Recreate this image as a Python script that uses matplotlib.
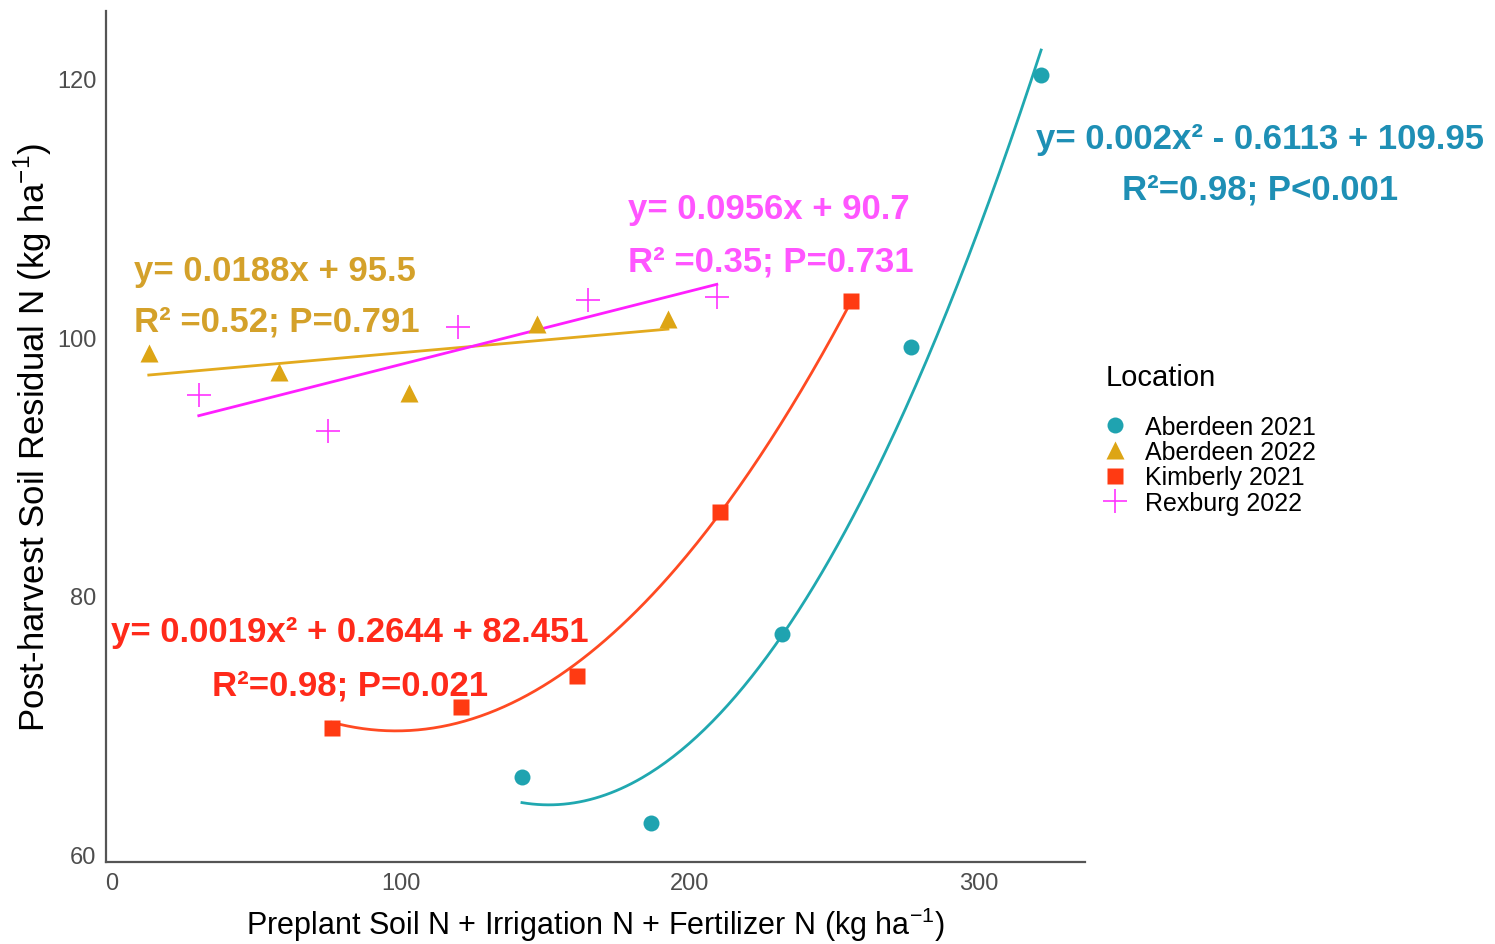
import matplotlib.pyplot as plt
import numpy as np

plt.rcParams['font.family'] = ['Liberation Sans', 'DejaVu Sans']
plt.rcParams['mathtext.fontset'] = 'custom'
plt.rcParams['mathtext.rm'] = 'Liberation Sans'

# Total N supplied (kg/ha) and post-harvest residual N (kg/ha) per site-year
aber21_x = [141.9, 186.5, 231.8, 276.5, 321.5]
aber21_y = [65.95, 62.4, 77.0, 99.2, 120.3]
aber22_x = [12.8, 57.8, 102.8, 147.1, 192.4]
aber22_y = [98.8, 97.3, 95.7, 101.0, 101.4]
kimb21_x = [76.1, 120.8, 160.9, 210.4, 255.7]
kimb21_y = [69.8, 71.4, 73.8, 86.5, 102.8]
rexb22_x = [30.1, 74.7, 119.7, 164.7, 209.3]
rexb22_y = [95.5, 92.7, 100.8, 102.9, 103.1]

teal = '#1FA3B0'
gold = '#DDA515'
red = '#FF3A12'
magenta = '#FF33FF'

fig = plt.figure(figsize=(14.95, 9.45), dpi=100)
ax = fig.add_axes([0.0709, 0.0868, 0.6549, 0.9002])


def fit_curve(x, y, deg, color):
    coef = np.polyfit(x, y, deg)
    xs = np.linspace(min(x), max(x), 200)
    ax.plot(xs, np.polyval(coef, xs), color=color, lw=2.0, zorder=2)


fit_curve(aber21_x, aber21_y, 2, '#20A8B0')
fit_curve(kimb21_x, kimb21_y, 2, '#FF4A22')
fit_curve(aber22_x, aber22_y, 1, '#E3AA1E')
fit_curve(rexb22_x, rexb22_y, 1, '#FF1FFF')

ax.plot(aber21_x, aber21_y, 'o', color=teal, ms=11.5, mec='none', label='Aberdeen 2021', zorder=3)
ax.plot(aber22_x, aber22_y, '^', color=gold, ms=13, mec='none', label='Aberdeen 2022', zorder=3)
ax.plot(kimb21_x, kimb21_y, 's', color=red, ms=11, mec='none', label='Kimberly 2021', zorder=3)
ax.plot(rexb22_x, rexb22_y, '+', color=magenta, ms=17, mew=1.2, label='Rexburg 2022', zorder=3)

ax.set_xlim(-2, 336.7)
ax.set_ylim(59.4, 125.2)
ax.set_xticks([0, 100, 200, 300])
ax.set_yticks([60, 80, 100, 120])
ax.tick_params(length=0, labelsize=17, labelcolor='#4d4d4d', pad=7)
for side in ['top', 'right']:
    ax.spines[side].set_visible(False)
for side in ['left', 'bottom']:
    ax.spines[side].set_color('#555555')
    ax.spines[side].set_linewidth(1.6)

ax.set_xlabel(r'Preplant Soil N + Irrigation N + Fertilizer N (kg ha$^{-1}$)', fontsize=22, labelpad=8)
ax.set_ylabel(r'Post-harvest Soil Residual N (kg ha$^{-1}$)', fontsize=25, labelpad=2)

fig.text(1106 / 1495, 1 - 378 / 945, 'Location', fontsize=21, ha='left', va='center')
ax.legend(loc='upper left', bbox_to_anchor=(1.0173, 0.5255),
          frameon=False, fontsize=18, handlelength=1.0,
          handletextpad=0.7, labelspacing=0.05, borderaxespad=0, borderpad=0)

# regression equations
eq_kw = dict(fontsize=25, fontweight='bold')
fig.text(1260 / 1495, 1 - 139 / 945, 'y= 0.002x² - 0.6113 + 109.95', color='#1E8FB5', ha='center', va='center', **eq_kw)
fig.text(1260 / 1495, 1 - 190 / 945, 'R²=0.98; P<0.001', color='#1E8FB5', ha='center', va='center', **eq_kw)
fig.text(134 / 1495, 1 - 271 / 945, 'y= 0.0188x + 95.5', color='#D4A12A', ha='left', va='center', **eq_kw)
fig.text(134 / 1495, 1 - 322 / 945, 'R² =0.52; P=0.791', color='#D4A12A', ha='left', va='center', **eq_kw)
fig.text(628 / 1495, 1 - 210 / 945, 'y= 0.0956x + 90.7', color='#FF55FF', ha='left', va='center', **eq_kw)
fig.text(628 / 1495, 1 - 262 / 945, 'R² =0.35; P=0.731', color='#FF55FF', ha='left', va='center', **eq_kw)
fig.text(350 / 1495, 1 - 633 / 945, 'y= 0.0019x² + 0.2644 + 82.451', color='#FF2A1A', ha='center', va='center', **eq_kw)
fig.text(350 / 1495, 1 - 686 / 945, 'R²=0.98; P=0.021', color='#FF2A1A', ha='center', va='center', **eq_kw)

fig.savefig('out.png', dpi=100)
